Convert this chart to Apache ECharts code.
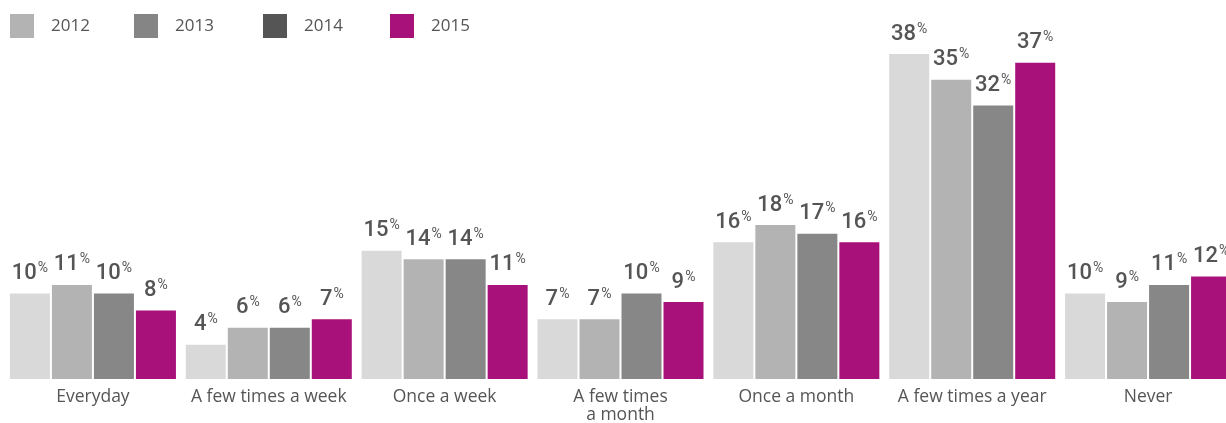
<!DOCTYPE html>
<html><head><meta charset="utf-8">
<script src="https://cdn.jsdelivr.net/npm/echarts@6/dist/echarts.min.js"></script>
<style>html,body{margin:0;padding:0;background:#fff;overflow:hidden}#c{width:1240px;height:423px}</style>
</head><body><div id="c"></div>
<script>
const categories = ['Everyday', 'A few times a week', 'Once a week', 'A few times\na month', 'Once a month', 'A few times a year', 'Never'];
const years = ['2012', '2013', '2014', '2015'];
const v2012 = [10, 4, 15, 7, 16, 38, 10];
const v2013 = [11, 6, 14, 7, 18, 35, 9];
const v2014 = [10, 6, 14, 10, 17, 32, 11];
const v2015 = [8, 7, 11, 9, 16, 37, 12];
const barColors = ['#d9d9d9', '#b3b3b3', '#878787', '#a8107a'];
const legendColors = ['#b3b3b3', '#858585', '#555555', '#a8107a'];
const values = [v2012, v2013, v2014, v2015];
const font = 'Open Sans';
const labelFont = 'Roboto';
const chart = echarts.init(document.getElementById('c'));
const legendLefts = [10, 134, 263, 390];
chart.setOption({
  animation: false,
  legend: years.map((y, i) => ({
    left: legendLefts[i], top: 14, padding: 0,
    itemWidth: 24, itemHeight: 24,
    icon: 'rect',
    data: [{name: y, itemStyle: {color: legendColors[i]}}],
    textStyle: {color: '#555', fontSize: 17, fontFamily: font, padding: [0, 0, 0, 12]}
  })),
  grid: {left: 5, top: 37, width: 1231, height: 342, outerBoundsMode: 'none', containLabel: false},
  xAxis: {
    type: 'category', data: categories,
    axisLine: {show: false}, axisTick: {show: false},
    axisLabel: {color: '#555', fontSize: 17.5, fontFamily: font, margin: 9, lineHeight: 18, interval: 0}
  },
  yAxis: {type: 'value', min: 0, max: 40, show: false, splitLine: {show: false}},
  series: years.map((y, i) => ({
    name: y, type: 'bar', data: values[i], barWidth: 40, barGap: '5%',
    itemStyle: {color: barColors[i]},
    label: {
      show: true, position: 'top', distance: 8,
      formatter: '{v|{c}}{p|%}',
      rich: {
        v: {fontSize: 22, fontWeight: 500, color: '#555', fontFamily: labelFont},
        p: {fontSize: 14, fontWeight: 400, color: '#555', fontFamily: labelFont, padding: [0, 0, 10, 1]}
      }
    }
  }))
});
</script></body></html>
